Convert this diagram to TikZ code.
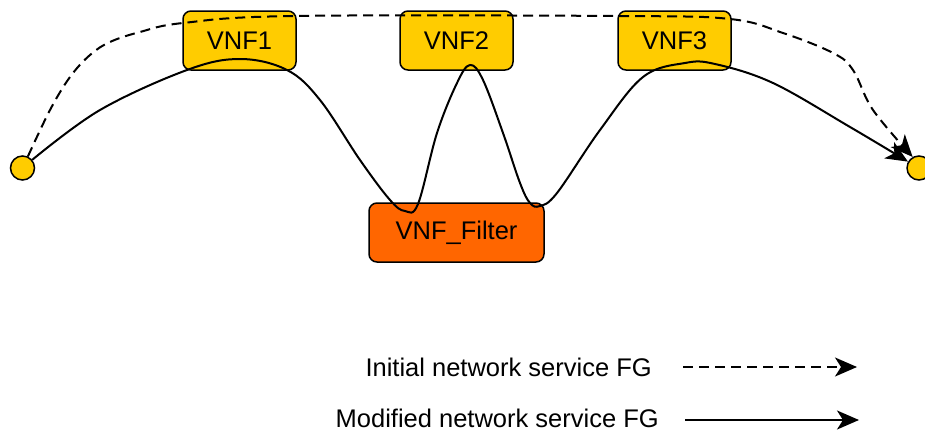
\documentclass[tikz,border=0pt]{standalone}
\usepackage{fontspec}
\setmainfont{Liberation Sans}
\usetikzlibrary{arrows.meta}
\definecolor{vnfyellow}{HTML}{FFCC00}
\definecolor{vnforange}{HTML}{FF6600}

\begin{document}
\begin{tikzpicture}[x=1pt,y=-1pt]
        \tikzstyle{vnf} = [draw, line width=1.5pt, rounded corners=8pt, fill=vnfyellow, minimum width=113pt, minimum height=59pt, font=\fontsize{25.5}{30}\selectfont]
        \tikzstyle{endpt} = [draw, circle, line width=1.5pt, fill=vnfyellow, minimum size=24pt, inner sep=0pt]
        \tikzstyle{legend} = [inner sep=0pt, font=\fontsize{25.5}{30}\selectfont]
        \tikzstyle{initial} = [line width=2pt, dash pattern=on 10pt off 6pt, -{Stealth[length=22pt, width=19pt, inset=6pt]}]
        \tikzstyle{modified} = [line width=2pt, -{Stealth[length=22pt, width=19pt, inset=6pt]}]
        \useasboundingbox (0,0) rectangle (925,431);
        \node[endpt] (src) at (22.5,168) {};
        \node[endpt] (dst) at (919,168) {};
        \node[vnf] (vnf1) at (239.5,40.5) {VNF1};
        \node[vnf] (vnf2) at (456.5,40.5) {VNF2};
        \node[vnf] (vnf3) at (674.5,40.5) {VNF3};
        \node[vnf, fill=vnforange, minimum width=175pt] (filter) at (456.5,232.5) {VNF\_Filter};
        \draw[initial] plot[smooth, tension=0.6] coordinates {(src.65) (50,110) (70,77) (90,55) (110,42) (140,32) (183,23) (293,16) (620,16) (730,19) (783,33) (833,53) (853,70) (873,110) (dst.120)};
        \draw[modified] plot[smooth, tension=0.6] coordinates {(src.40) (100,110) (187,70) (240,59) (287,70) (320,100) (360,160) (390,200) (405,211) (418,204) (437,133) (457,83) (470,65) (483,80) (503,133) (520,183) (530,203) (540,206) (557,193) (600,130) (643,77) (685,63) (715,64) (773,83) (850,127) (dst.150)};
        \node[legend, anchor=base east] (initlbl) at (652,376) {Initial network service FG};
        \node[legend, anchor=base east] (modlbl) at (659,427) {Modified network service FG};
        \coordinate (initend) at (857,367);
        \coordinate (modend) at (859,420);
        \draw[initial] ([xshift=31pt, yshift=9pt]initlbl.base east) -- (initend);
        \draw[modified] ([xshift=26pt, yshift=7pt]modlbl.base east) -- (modend);
    \end{tikzpicture}
\end{document}
